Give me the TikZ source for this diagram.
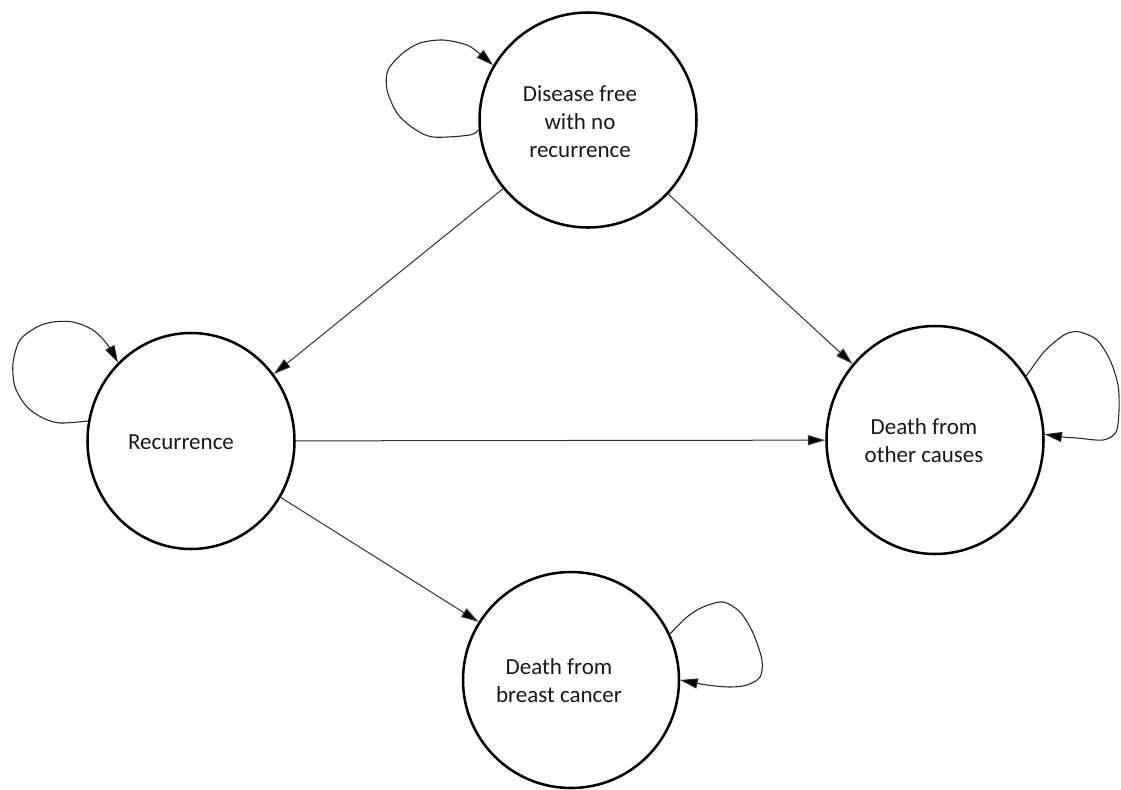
\documentclass[tikz,border=0pt]{standalone}
\usepackage{fontspec}
\setmainfont{Carlito}
\usetikzlibrary{arrows.meta,shapes.geometric}
\begin{document}
\begin{tikzpicture}[x=0.75pt,y=-0.75pt,
  state/.style={draw=black, ellipse, line width=1.9pt, inner sep=0pt, fill=white},
  lbl/.style={align=center, inner sep=0pt, font=\fontsize{17.25pt}{21pt}\selectfont, text=black!90},
  conn/.style={draw=black!80, line width=0.75pt, -{Triangle[length=13pt,width=7.5pt,fill=black]}},
  loopc/.style={draw=black!85, line width=0.8pt, -{Triangle[length=13pt,width=7.5pt,fill=black]}}]
\useasboundingbox (0,0) rectangle (1121,789);
\fill[white] (0,0) rectangle (1121,789);

\node[state, minimum width=162.75pt, minimum height=161.25pt] (df) at (588,120) {};
\node[state, minimum width=155.25pt, minimum height=162pt] (rec) at (191,441) {};
\node[state, minimum width=162.75pt, minimum height=171pt] (oth) at (935,440) {};
\node[state, minimum width=162pt, minimum height=162pt] (bc) at (571,680) {};

\node[lbl] (dft) at (580,122) {Disease free\\with no\\recurrence};
\node[lbl] (rect) at (181,442) {Recurrence};
\node[lbl] (otht) at (924,441) {Death from\\other causes};
\node[lbl] (bct) at (559,681) {Death from\\breast cancer};

\draw[conn] (df) -- (rec);
\draw[conn] (df) -- (oth);
\draw[conn] (rec) -- (oth);
\draw[conn] (rec) -- (bc);

\draw[loopc] plot[smooth] coordinates {(df.185) (470,135) (433,137) (413,128) (397,113) (387,90) (388,70) (403,53) (420,43) (443,40) (467,45) (480,54) (df.150)};
\draw[loopc] plot[smooth] coordinates {(rec.169) (60,423) (43,418) (27,407) (15,387) (13,363) (20,340) (37,327) (53,322) (73,322) (93,330) (107,344) (rec.133)};
\draw[loopc] plot[smooth] coordinates {(oth.35) (1043,353) (1057,340) (1068,333) (1080,332) (1097,340) (1110,360) (1118,385) (1119,410) (1116,432) (1103,440) (1077,438) (1063,437) (oth.3)};
\draw[loopc] plot[smooth] coordinates {(bc.25) (687,617) (703,607) (723,602) (740,612) (753,633) (762,660) (760,677) (747,685) (730,687) (707,685) (bc.0)};
\end{tikzpicture}
\end{document}
